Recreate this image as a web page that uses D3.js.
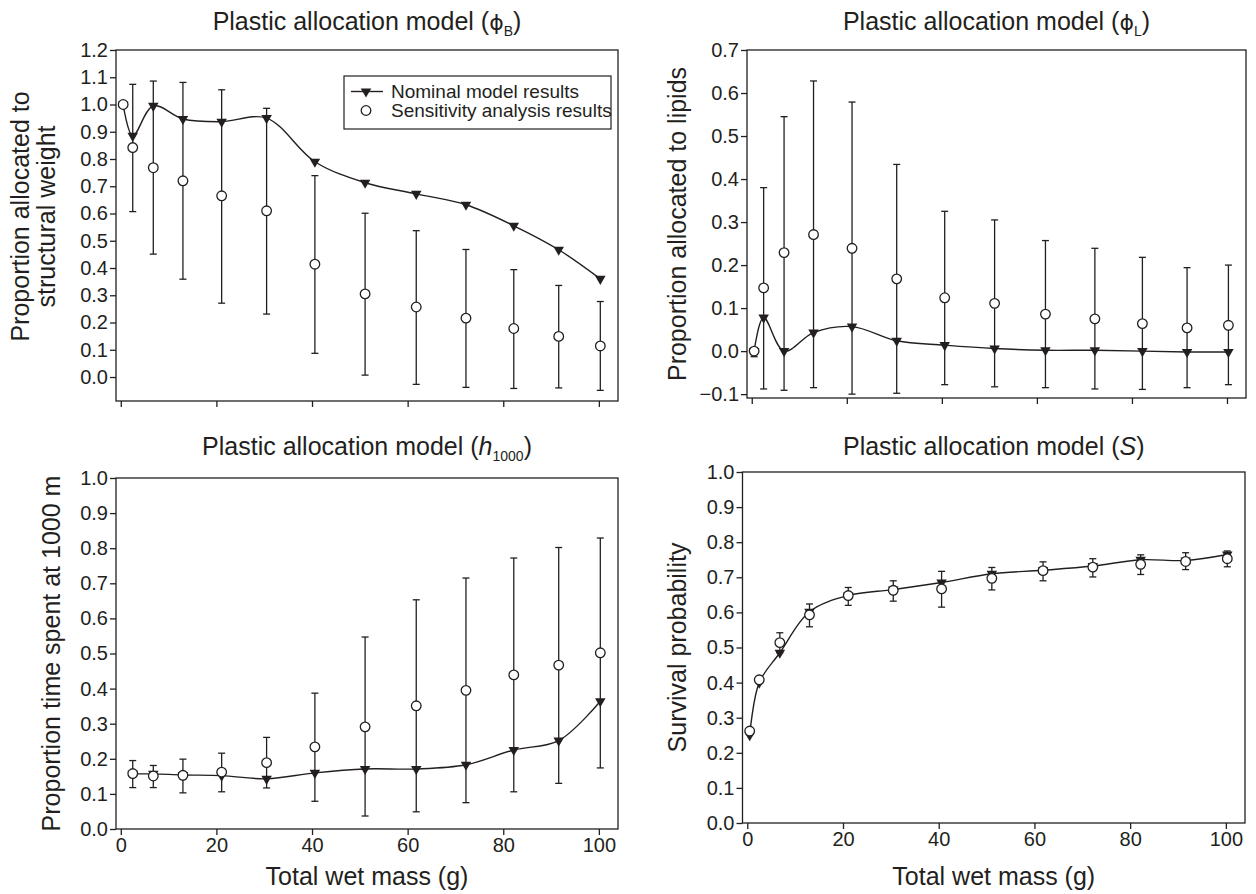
<!DOCTYPE html>
<html>
<head>
<meta charset="utf-8">
<script src="https://cdn.jsdelivr.net/npm/d3@7"></script>
<style>
  body { margin: 0; background: #fff; }
  svg text { font-family: "Liberation Sans", Arial, sans-serif; fill: #231f20; }
</style>
</head>
<body>
<svg id="chart" width="1256" height="894"></svg>
<script>
// x positions (total wet mass, g)
const mass = [0.5, 2.5, 6.8, 13, 21.1, 30.5, 40.6, 51.1, 61.8, 72.2, 82.2, 91.6, 100.3];
const xTicks = [0, 20, 40, 60, 80, 100];

// phi_B panel
const phiBNominal = [1.0, 0.885, 0.995, 0.947, 0.937, 0.95, 0.79, 0.713, 0.672, 0.632, 0.555, 0.467, 0.36];
const phiBSens    = [1.0, 0.842, 0.768, 0.72, 0.665, 0.61, 0.414, 0.305, 0.257, 0.216, 0.178, 0.149, 0.114];
const phiBHigh    = [1.0, 1.074, 1.086, 1.081, 1.054, 0.986, 0.739, 0.601, 0.537, 0.468, 0.394, 0.336, 0.277];
const phiBLow     = [1.0, 0.607, 0.451, 0.359, 0.271, 0.231, 0.087, 0.007, -0.027, -0.038, -0.042, -0.04, -0.049];
const phiBTicks = [0, 0.1, 0.2, 0.3, 0.4, 0.5, 0.6, 0.7, 0.8, 0.9, 1.0, 1.1, 1.2];

// phi_L panel
const phiLNominal = [0.0, 0.078, 0.0, 0.043, 0.057, 0.024, 0.014, 0.006, 0.002, 0.002, 0.0, -0.002, -0.002];
const phiLSens    = [0.0, 0.147, 0.229, 0.271, 0.239, 0.168, 0.124, 0.111, 0.086, 0.075, 0.064, 0.054, 0.06];
const phiLHigh    = [0.005, 0.38, 0.545, 0.628, 0.579, 0.434, 0.325, 0.305, 0.257, 0.239, 0.218, 0.194, 0.2];
const phiLLow     = [-0.013, -0.088, -0.091, -0.085, -0.1, -0.098, -0.078, -0.083, -0.085, -0.088, -0.089, -0.085, -0.078];
const phiLTicks = [-0.1, 0, 0.1, 0.2, 0.3, 0.4, 0.5, 0.6, 0.7];

// h1000 panel (no point at 0.5 g)
const hNominal = [null, 0.157, 0.157, 0.154, 0.152, 0.143, 0.16, 0.171, 0.171, 0.183, 0.225, 0.252, 0.364];
const hSens    = [null, 0.158, 0.151, 0.153, 0.162, 0.189, 0.234, 0.291, 0.351, 0.395, 0.439, 0.467, 0.502];
const hHigh    = [null, 0.195, 0.181, 0.199, 0.216, 0.261, 0.387, 0.547, 0.653, 0.715, 0.772, 0.802, 0.829];
const hLow     = [null, 0.118, 0.118, 0.103, 0.106, 0.117, 0.079, 0.037, 0.049, 0.075, 0.106, 0.13, 0.174];
const unitTicks = [0, 0.1, 0.2, 0.3, 0.4, 0.5, 0.6, 0.7, 0.8, 0.9, 1.0];

// survival panel
const sNominal = [0.25, 0.40, 0.485, 0.602, 0.648, 0.665, 0.685, 0.71, 0.72, 0.732, 0.75, 0.748, 0.765];
const sSens    = [0.262, 0.408, 0.514, 0.593, 0.648, 0.663, 0.667, 0.697, 0.719, 0.729, 0.737, 0.745, 0.753];
const sHigh    = [0.268, 0.413, 0.542, 0.624, 0.671, 0.69, 0.717, 0.728, 0.744, 0.753, 0.764, 0.77, 0.775];
const sLow     = [0.256, 0.403, 0.485, 0.559, 0.62, 0.632, 0.615, 0.664, 0.69, 0.701, 0.708, 0.722, 0.73];

const ink = '#231f20';
const svg = d3.select('#chart');

function rows(nom, sens, hi, lo) {
    return mass.map((m, i) => ({ x: m, nom: nom[i], sens: sens[i], hi: hi[i], lo: lo[i] }))
        .filter(d => d.nom !== null);
}

function drawPanel(p) {
    const x = d3.scaleLinear().domain([-1, 104]).range([p.left, p.right]);
    const y = d3.scaleLinear().domain(p.yDomain).range([p.bottom, p.top]);
    const g = svg.append('g');
    const data = rows(...p.series);

    // frame
    g.append('rect')
        .attr('x', p.left).attr('y', p.top)
        .attr('width', p.right - p.left).attr('height', p.bottom - p.top)
        .attr('fill', 'none').attr('stroke', ink).attr('stroke-width', 1.3);

    // axes
    const ya = g.append('g')
        .attr('transform', `translate(${p.left},0)`)
        .call(d3.axisLeft(y).tickValues(p.yTicks).tickSize(6).tickPadding(2).tickFormat(d3.format('.1f')));
    const xa = g.append('g')
        .attr('transform', `translate(0,${p.bottom})`)
        .call(d3.axisBottom(x).tickValues(xTicks).tickSize(6).tickPadding(3)
            .tickFormat(p.xLabels ? d3.format('d') : ''));
    [ya, xa].forEach(a => {
        a.select('.domain').remove();
        a.selectAll('line').attr('stroke', ink).attr('stroke-width', 1.3);
        a.selectAll('text').attr('font-size', 20).attr('fill', ink)
            .attr('font-family', '"Liberation Sans", Arial, sans-serif');
    });

    // error bars
    const eb = g.selectAll('.eb').data(data).enter().append('g')
        .attr('stroke', ink).attr('stroke-width', 1.3);
    eb.append('line')
        .attr('x1', d => x(d.x)).attr('x2', d => x(d.x))
        .attr('y1', d => y(d.hi)).attr('y2', d => y(d.lo));
    eb.append('line')
        .attr('x1', d => x(d.x) - 3.5).attr('x2', d => x(d.x) + 3.5)
        .attr('y1', d => y(d.hi)).attr('y2', d => y(d.hi));
    eb.append('line')
        .attr('x1', d => x(d.x) - 3.5).attr('x2', d => x(d.x) + 3.5)
        .attr('y1', d => y(d.lo)).attr('y2', d => y(d.lo));

    // nominal line
    const line = d3.line().x(d => x(d.x)).y(d => y(d.nom)).curve(d3.curveCatmullRom.alpha(0.5));
    g.append('path').datum(data)
        .attr('d', line).attr('fill', 'none').attr('stroke', ink).attr('stroke-width', 1.4);

    const tri = d3.symbol().type(d3.symbolTriangle).size(48);
    g.selectAll('.tri').data(data).enter().append('path')
        .attr('d', tri)
        .attr('transform', d => `translate(${x(d.x)},${y(d.nom)}) rotate(180)`)
        .attr('fill', ink);

    g.selectAll('.dot').data(data).enter().append('circle')
        .attr('cx', d => x(d.x)).attr('cy', d => y(d.sens)).attr('r', 4.8)
        .attr('fill', '#fff').attr('stroke', ink).attr('stroke-width', 1.3);

    // title
    const t = g.append('text')
        .attr('x', (p.left + p.right) / 2).attr('y', p.titleY)
        .attr('text-anchor', 'middle').attr('font-size', 25);
    t.append('tspan').text('Plastic allocation model (');
    t.append('tspan').text(p.sym).attr('font-style', p.italic ? 'italic' : null)
        .attr('font-family', p.italic ? null : '"DejaVu Sans", sans-serif')
        .attr('font-size', p.italic ? null : 22);
    if (p.sub) {
        t.append('tspan').text(p.sub).attr('font-size', 14).attr('dy', 6);
        t.append('tspan').text(')').attr('dy', -6);
    } else {
        t.append('tspan').text(')');
    }

    // y label (one or more lines)
    p.yLabel.forEach((txt, i) => {
        g.append('text')
            .attr('transform', `translate(${p.yLabelX[i]},${(p.top + p.bottom) / 2 + (p.yLabelDy || 0)}) rotate(-90)`)
            .attr('text-anchor', 'middle').attr('font-size', 25).text(txt);
    });

    if (p.xLabels) {
        g.append('text')
            .attr('x', (p.left + p.right) / 2).attr('y', 885)
            .attr('text-anchor', 'middle').attr('font-size', 25).text('Total wet mass (g)');
    }

    if (p.legend) {
        const lg = g.append('g');
        lg.append('rect').attr('x', 344).attr('y', 76).attr('width', 267).attr('height', 53)
            .attr('fill', '#fff').attr('stroke', ink).attr('stroke-width', 1.2);
        lg.append('line').attr('x1', 351).attr('x2', 383).attr('y1', 91.5).attr('y2', 91.5)
            .attr('stroke', ink).attr('stroke-width', 1.4);
        lg.append('path').attr('d', tri).attr('transform', 'translate(366,91.5) rotate(180)').attr('fill', ink);
        lg.append('circle').attr('cx', 366).attr('cy', 110.5).attr('r', 4.8)
            .attr('fill', '#fff').attr('stroke', ink).attr('stroke-width', 1.3);
        lg.append('text').attr('x', 391).attr('y', 98).attr('font-size', 19).text('Nominal model results');
        lg.append('text').attr('x', 391).attr('y', 117).attr('font-size', 19).text('Sensitivity analysis results');
    }
}

drawPanel({
    left: 116, right: 618, top: 50, bottom: 401, yDomain: [-0.088, 1.2], yTicks: phiBTicks,
    series: [phiBNominal, phiBSens, phiBHigh, phiBLow], sym: '\u03D5', sub: 'B', titleY: 30,
    yLabel: ['Proportion allocated to', 'structural weight'], yLabelX: [29, 55], yLabelDy: -9,
    legend: true
});
drawPanel({
    left: 747, right: 1246, top: 50, bottom: 398, yDomain: [-0.109, 0.7], yTicks: phiLTicks,
    series: [phiLNominal, phiLSens, phiLHigh, phiLLow], sym: '\u03D5', sub: 'L', titleY: 30,
    yLabel: ['Proportion allocated to lipids'], yLabelX: [686]
});
drawPanel({
    left: 116, right: 618, top: 478, bottom: 829, yDomain: [0, 1], yTicks: unitTicks,
    series: [hNominal, hSens, hHigh, hLow], sym: 'h', italic: true, sub: '1000', titleY: 455,
    yLabel: ['Proportion time spent at 1000 m'], yLabelX: [60], xLabels: true
});
drawPanel({
    left: 742.5, right: 1245, top: 472, bottom: 823, yDomain: [0, 1], yTicks: unitTicks,
    series: [sNominal, sSens, sHigh, sLow], sym: 'S', italic: true, titleY: 455,
    yLabel: ['Survival probability'], yLabelX: [686], xLabels: true
});
</script>
</body>
</html>
